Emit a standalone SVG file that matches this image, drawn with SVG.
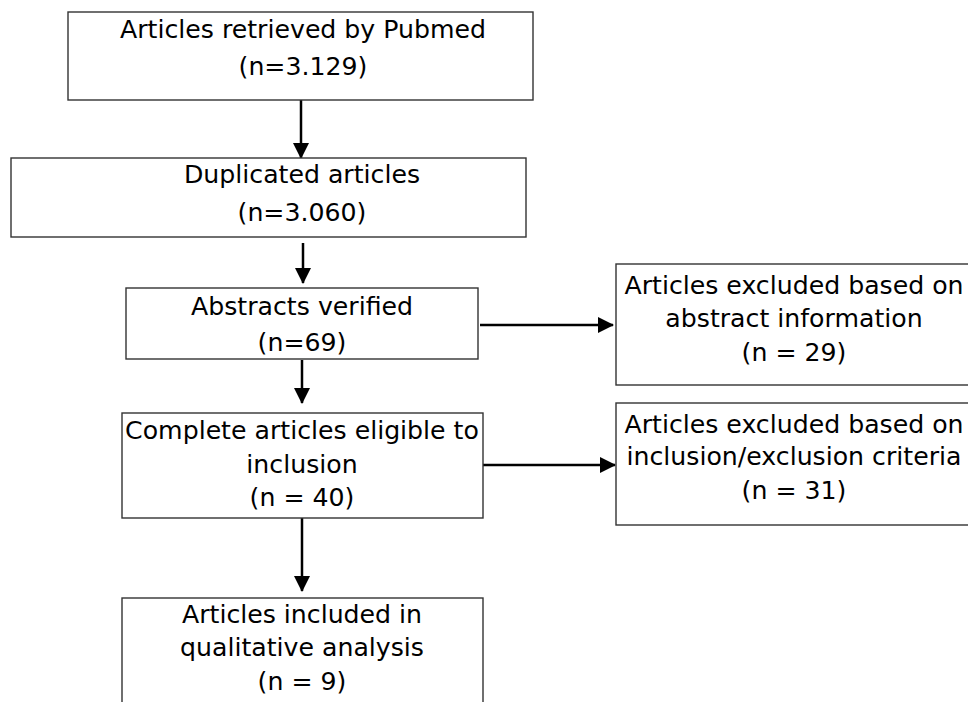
<svg xmlns="http://www.w3.org/2000/svg" width="968" height="702" viewBox="0 0 968 702">
<style>
.box{fill:#fff;stroke:#333;stroke-width:1.4}
.t{font-family:"DejaVu Sans",Verdana,sans-serif;font-size:25.2px;fill:#000;text-anchor:middle}
.c{stroke:#000;stroke-width:2.5;fill:none;marker-end:url(#ah)}
</style>
<defs>
<marker id="ah" markerUnits="userSpaceOnUse" markerWidth="16" markerHeight="16" viewBox="0 0 16 16" refX="15" refY="8" orient="auto">
<path d="M0,0 L16,8 L0,16 Z" fill="#000"/>
</marker>
</defs>
<rect width="968" height="702" fill="#fff"/>
<g id="connectors">
<line class="c" x1="301" y1="100" x2="301" y2="158"/>
<line class="c" x1="303" y1="243" x2="303" y2="283"/>
<line class="c" x1="302" y1="360" x2="302" y2="403"/>
<line class="c" x1="302" y1="518" x2="302" y2="591"/>
<line class="c" x1="480" y1="325" x2="613" y2="325"/>
<line class="c" x1="483" y1="465" x2="615" y2="465"/>
</g>
<g id="n1">
<rect class="box" x="68" y="12" width="465" height="88"/>
<text class="t" x="303" y="38">Articles retrieved by Pubmed</text>
<text class="t" x="303" y="75">(n=3.129)</text>
</g>
<g id="n2">
<rect class="box" x="11" y="158" width="515" height="79"/>
<text class="t" x="302" y="183">Duplicated articles</text>
<text class="t" x="302" y="221">(n=3.060)</text>
</g>
<g id="n3">
<rect class="box" x="126" y="288" width="352" height="71"/>
<text class="t" x="302" y="315">Abstracts verified</text>
<text class="t" x="302" y="351">(n=69)</text>
</g>
<g id="n4">
<rect class="box" x="616" y="264" width="360" height="121"/>
<text class="t" x="794" y="294">Articles excluded based on</text>
<text class="t" x="794" y="327">abstract information</text>
<text class="t" x="794" y="361">(n = 29)</text>
</g>
<g id="n5">
<rect class="box" x="122" y="413" width="361" height="105"/>
<text class="t" x="302" y="439">Complete articles eligible to</text>
<text class="t" x="302" y="473">inclusion</text>
<text class="t" x="302" y="506">(n = 40)</text>
</g>
<g id="n6">
<rect class="box" x="616" y="403" width="360" height="122"/>
<text class="t" x="794" y="433">Articles excluded based on</text>
<text class="t" x="794" y="465">inclusion/exclusion criteria</text>
<text class="t" x="794" y="499">(n = 31)</text>
</g>
<g id="n7">
<rect class="box" x="122" y="598" width="361" height="120"/>
<text class="t" x="302" y="623">Articles included in</text>
<text class="t" x="302" y="656">qualitative analysis</text>
<text class="t" x="302" y="690">(n = 9)</text>
</g>
</svg>
